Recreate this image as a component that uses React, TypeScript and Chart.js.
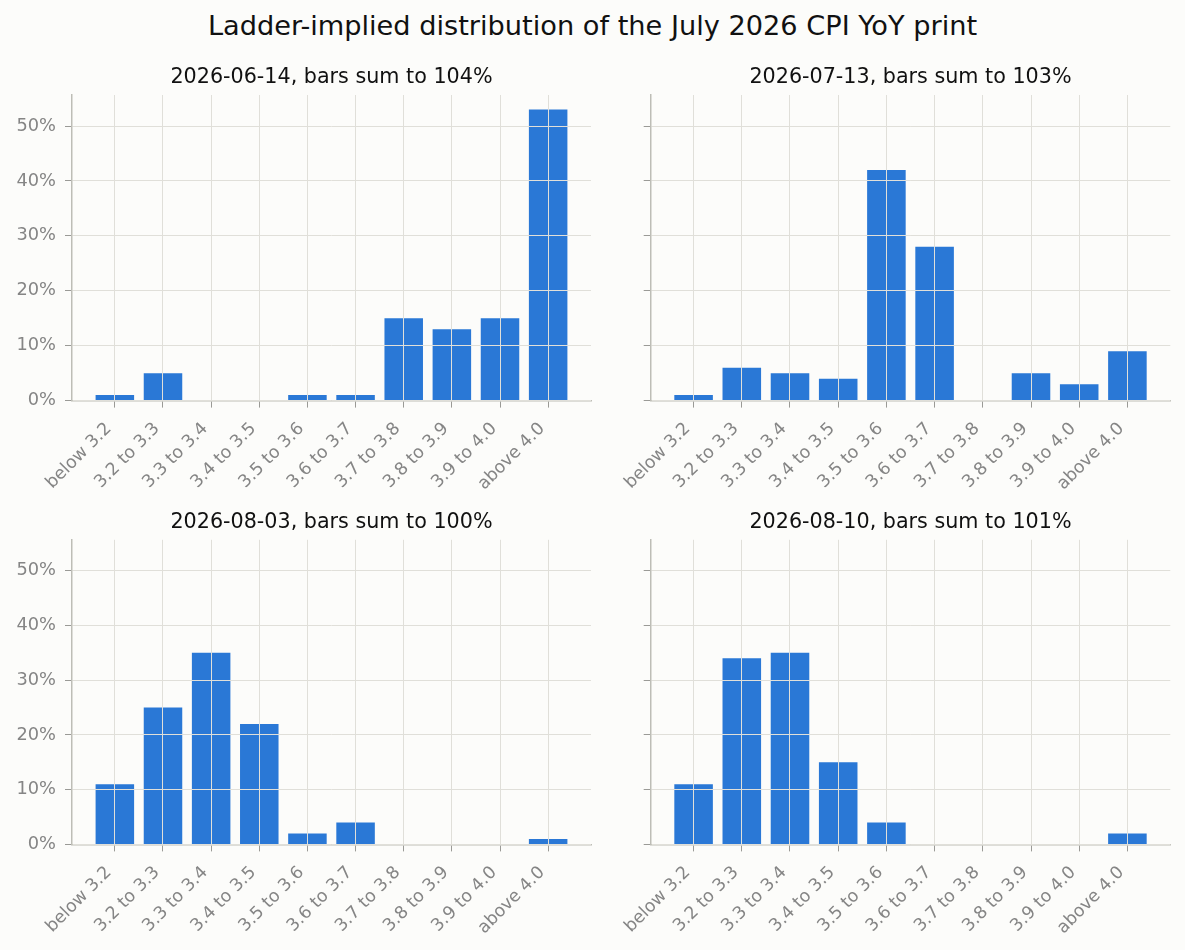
import { useEffect, useRef } from 'react';
import { Chart, registerables } from 'chart.js';

Chart.register(...registerables);

// buckets of the CPI ladder
const categories = [
  'below 3.2',
  '3.2 to 3.3',
  '3.3 to 3.4',
  '3.4 to 3.5',
  '3.5 to 3.6',
  '3.6 to 3.7',
  '3.7 to 3.8',
  '3.8 to 3.9',
  '3.9 to 4.0',
  'above 4.0',
];

// implied probability per bucket, in %
const jun14 = [1, 5, 0, 0, 1, 1, 15, 13, 15, 53];
const jul13 = [1, 6, 5, 4, 42, 28, 0, 5, 3, 9];
const aug03 = [11, 25, 35, 22, 2, 4, 0, 0, 0, 1];
const aug10 = [11, 34, 35, 15, 4, 0, 0, 0, 0, 2];

const snapshotDates = ['2026-06-14', '2026-07-13', '2026-08-03', '2026-08-10'];
const snapshots = [jun14, jul13, aug03, aug10];

const yTicks = [0, 10, 20, 30, 40, 50];

const FONT = '"DejaVu Sans", sans-serif';
const BAR = '#2a78d6';
const GRID = '#e0dfd9';
const AXIS = '#bdbdb6';
const TICK_MARK = '#9a9a96';
const TICK_TEXT = '#858585';

// shared y limit, like matplotlib sharey with 5% margin
const yMax = Math.max(...snapshots.flat()) * 1.05;
// matplotlib-like x margins around bars of width 0.8
const span = categories.length - 1 + 0.8;
const xMin = -0.4 - span * 0.05;
const xMax = categories.length - 1 + 0.4 + span * 0.05;

const panelTitle = {
  id: 'panelTitle',
  afterDraw(chart: any, _args: any, opts: any) {
    const { ctx, chartArea } = chart;
    ctx.save();
    ctx.font = `20.7px ${FONT}`;
    ctx.fillStyle = '#111111';
    ctx.textAlign = 'center';
    ctx.textBaseline = 'alphabetic';
    ctx.fillText(opts.text, (chartArea.left + chartArea.right) / 2, chartArea.top - 11.7);
    ctx.restore();
  },
};

type PanelProps = {
  values: number[];
  date: string;
  left: number;
  top: number;
  width: number;
  height: number;
  plotLeft: number;
  plotRight: number;
  plotTop: number;
  plotBottom: number;
  showYLabels: boolean;
};

function Panel(p: PanelProps) {
  const canvasRef = useRef<HTMLCanvasElement>(null);
  const chartRef = useRef<Chart | null>(null);

  useEffect(() => {
    if (!canvasRef.current) return;
    if (chartRef.current) chartRef.current.destroy();

    const total = p.values.reduce((a, b) => a + b, 0);

    chartRef.current = new Chart(canvasRef.current, {
      type: 'bar',
      data: {
        datasets: [
          {
            data: p.values.map((v, i) => ({ x: i, y: v })),
            backgroundColor: BAR,
            borderWidth: 0,
            barPercentage: 0.8,
            categoryPercentage: 1,
          },
        ],
      },
      options: {
        responsive: true,
        maintainAspectRatio: false,
        animation: false,
        layout: {
          padding: { left: 0, top: p.plotTop, right: p.width - p.plotRight, bottom: 0 },
        },
        plugins: {
          legend: { display: false },
          tooltip: { enabled: false },
          panelTitle: { text: `${p.date}, bars sum to ${total}%` },
        } as any,
        scales: {
          x: {
            type: 'linear',
            min: xMin,
            max: xMax,
            offset: false,
            afterBuildTicks: (s: any) => {
              s.ticks = categories.map((_, i) => ({ value: i }));
            },
            afterFit: (s: any) => {
              s.height = p.height - p.plotBottom;
            },
            ticks: {
              autoSkip: false,
              maxRotation: 45,
              minRotation: 45,
              padding: 11,
              labelOffset: -6,
              color: TICK_TEXT,
              font: { family: FONT, size: 17.4 },
              callback: (v: any) => categories[v],
            },
            grid: { offset: false, color: GRID, lineWidth: 1, tickColor: TICK_MARK, tickLength: 7, z: 1 },
            border: { color: AXIS, width: 1.5, z: 1 },
          },
          y: {
            min: 0,
            max: yMax,
            afterBuildTicks: (s: any) => {
              s.ticks = yTicks.map((v) => ({ value: v }));
            },
            afterFit: (s: any) => {
              s.width = p.plotLeft;
            },
            ticks: {
              padding: 9,
              color: TICK_TEXT,
              font: { family: FONT, size: 17.8 },
              callback: (v: any) => (p.showYLabels ? `${v}%` : ''),
            },
            grid: { color: GRID, lineWidth: 1, tickColor: TICK_MARK, tickLength: 7, z: 1 },
            border: { color: AXIS, width: 1.5, z: 1 },
          },
        },
      } as any,
      plugins: [panelTitle],
    });

    return () => {
      if (chartRef.current) {
        chartRef.current.destroy();
        chartRef.current = null;
      }
    };
  }, []);

  return (
    <div
      style={{
        position: 'absolute',
        left: p.left,
        top: p.top,
        width: p.width,
        height: p.height,
      }}
    >
      <canvas ref={canvasRef}></canvas>
    </div>
  );
}

export default function App() {
  return (
    <div
      style={{
        position: 'absolute',
        left: 0,
        top: 0,
        width: 1185,
        height: 950,
        background: '#fcfcfa',
        overflow: 'hidden',
      }}
    >
      <div
        style={{
          position: 'absolute',
          left: 0,
          top: 12,
          width: 1185,
          textAlign: 'center',
          fontFamily: FONT,
          fontSize: 27.2,
          lineHeight: '27.2px',
          color: '#111111',
        }}
      >
        Ladder-implied distribution of the July 2026 CPI YoY print
      </div>
      <Panel
        values={snapshots[0]}
        date={snapshotDates[0]}
        left={0}
        top={50}
        width={600}
        height={450}
        plotLeft={72}
        plotRight={591}
        plotTop={45}
        plotBottom={350.6}
        showYLabels={true}
      />
      <Panel
        values={snapshots[1]}
        date={snapshotDates[1]}
        left={600}
        top={50}
        width={585}
        height={450}
        plotLeft={50.7}
        plotRight={570.3}
        plotTop={45}
        plotBottom={350.6}
        showYLabels={false}
      />
      <Panel
        values={snapshots[2]}
        date={snapshotDates[2]}
        left={0}
        top={500}
        width={600}
        height={450}
        plotLeft={72}
        plotRight={591}
        plotTop={39.8}
        plotBottom={344.4}
        showYLabels={true}
      />
      <Panel
        values={snapshots[3]}
        date={snapshotDates[3]}
        left={600}
        top={500}
        width={585}
        height={450}
        plotLeft={50.7}
        plotRight={570.3}
        plotTop={39.8}
        plotBottom={344.4}
        showYLabels={false}
      />
    </div>
  );
}
